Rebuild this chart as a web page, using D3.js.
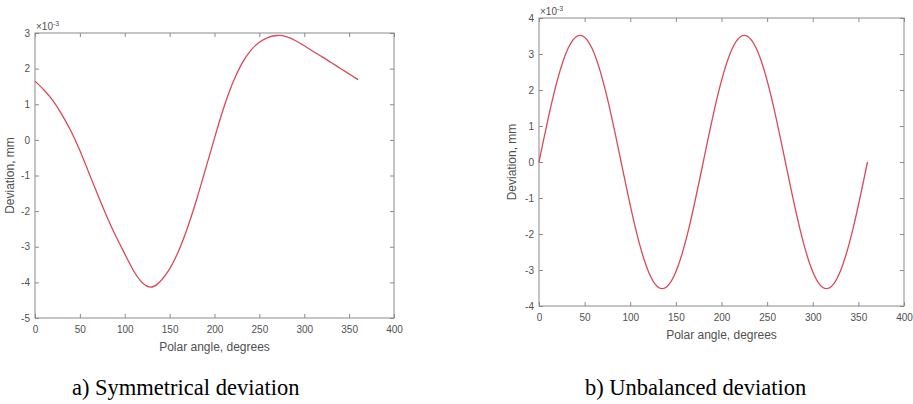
<!DOCTYPE html>
<html>
<head>
<meta charset="utf-8">
<script src="https://cdn.jsdelivr.net/npm/d3@7"></script>
<style>
  body { margin: 0; background: #fff; }
  svg { display: block; }
</style>
</head>
<body>
<svg id="main" width="913" height="404"></svg>
<script>
// Polar angle ticks shared by both panels
const angleTicks = [0, 50, 100, 150, 200, 250, 300, 350, 400];

// a) symmetrical deviation, values in units of 1e-3 mm
const symAngle = [0, 10, 20, 30, 40, 50, 60, 70, 80, 90, 100, 110, 120, 130,
                  140, 150, 160, 170, 180, 190, 200, 210, 220, 230, 240, 250,
                  260, 270, 280, 290, 300, 310, 320, 330, 340, 350, 360];
const symDev = [1.65, 1.40, 1.10, 0.71, 0.25, -0.30, -0.92, -1.55, -2.15, -2.70,
                -3.20, -3.68, -4.02, -4.13, -3.96, -3.62, -3.12, -2.46, -1.68,
                -0.82, 0.05, 0.88, 1.58, 2.12, 2.50, 2.74, 2.88, 2.93, 2.90,
                2.79, 2.64, 2.48, 2.33, 2.17, 2.01, 1.85, 1.69];
const symTicks = [-5, -4, -3, -2, -1, 0, 1, 2, 3];

// b) unbalanced deviation, values in units of 1e-3 mm
const unbAngle = [0, 15, 30, 45, 60, 75, 90, 105, 120, 135, 150, 165, 180,
                  195, 210, 225, 240, 255, 270, 285, 300, 315, 330, 345, 360];
const unbDev = [0, 1.76, 3.05, 3.52, 3.05, 1.76, 0, -1.76, -3.05, -3.52, -3.05,
                -1.76, 0, 1.76, 3.05, 3.52, 3.05, 1.76, 0, -1.76, -3.05, -3.52,
                -3.05, -1.76, 0];
const unbTicks = [-4, -3, -2, -1, 0, 1, 2, 3, 4];

const captions = ["a) Symmetrical deviation", "b) Unbalanced deviation"];

/////////////////////////////////////////////////////////

const svg = d3.select("#main");
const sans = "'Liberation Sans', Arial, sans-serif";
const boxColor = "#8a8a8a";
const labelColor = "#505050";

function drawPanel(p) {
    const g = svg.append("g");
    const x = d3.scaleLinear().domain([0, 400]).range([p.x0, p.x1]);
    const y = d3.scaleLinear().domain(d3.extent(p.yTicks)).range([p.y1, p.y0]);

    const fmt = d => String(d);

    // bottom / left with labels, top / right ticks only (matlab box)
    const axes = [
        [d3.axisBottom(x).tickValues(angleTicks).tickFormat(fmt).tickPadding(8), p.y1, true],
        [d3.axisTop(x).tickValues(angleTicks).tickFormat(""), p.y0, true],
        [d3.axisLeft(y).tickValues(p.yTicks).tickFormat(fmt).tickPadding(5), p.x0, false],
        [d3.axisRight(y).tickValues(p.yTicks).tickFormat(""), p.x1, false],
    ];
    axes.forEach(([ax, pos, horiz]) => {
        const a = g.append("g")
            .attr("transform", horiz ? `translate(0,${pos})` : `translate(${pos},0)`)
            .call(ax.tickSizeInner(-4).tickSizeOuter(0));
        a.select(".domain").remove();
        a.selectAll("line").attr("stroke", boxColor);
        a.selectAll("text")
            .attr("fill", labelColor)
            .style("font-family", sans)
            .style("font-size", "10px");
    });

    g.append("rect")
        .attr("x", p.x0).attr("y", p.y0)
        .attr("width", p.x1 - p.x0).attr("height", p.y1 - p.y0)
        .attr("fill", "none")
        .attr("stroke", boxColor)
        .attr("stroke-width", 1);

    const line = d3.line()
        .x(d => x(d[0]))
        .y(d => y(d[1]))
        .curve(d3.curveNatural);

    g.append("path")
        .datum(d3.zip(p.angle, p.dev))
        .attr("d", line)
        .attr("fill", "none")
        .attr("stroke", "#d84a58")
        .attr("stroke-width", 1.3);

    // exponent marker
    const ex = g.append("text")
        .attr("x", p.x0 + 1)
        .attr("y", p.y0 - 3)
        .attr("fill", labelColor)
        .style("font-family", sans)
        .style("font-size", "10px");
    ex.append("tspan").text("\u00d710");
    ex.append("tspan").attr("dy", -4).style("font-size", "7px").text("-3");

    g.append("text")
        .attr("x", (p.x0 + p.x1) / 2)
        .attr("y", p.xLabelY)
        .attr("text-anchor", "middle")
        .attr("fill", labelColor)
        .style("font-family", sans)
        .style("font-size", "12px")
        .text("Polar angle, degrees");

    g.append("text")
        .attr("transform", `translate(${p.yLabelX},${(p.y0 + p.y1) / 2}) rotate(-90)`)
        .attr("text-anchor", "middle")
        .attr("fill", labelColor)
        .style("font-family", sans)
        .style("font-size", "12px")
        .text("Deviation, mm");

    svg.append("text")
        .attr("x", p.capX)
        .attr("y", 395)
        .attr("fill", "#000")
        .style("font-family", "'Liberation Serif', 'Times New Roman', serif")
        .style("font-size", "22.5px")
        .text(p.caption);
}

drawPanel({
    x0: 35, x1: 394, y0: 33, y1: 318,
    angle: symAngle, dev: symDev, yTicks: symTicks,
    xLabelY: 351, yLabelX: 14, capX: 72, caption: captions[0]
});

drawPanel({
    x0: 539, x1: 904, y0: 18, y1: 306,
    angle: unbAngle, dev: unbDev, yTicks: unbTicks,
    xLabelY: 339, yLabelX: 516, capX: 585, caption: captions[1]
});

console.log("All done");
</script>
</body>
</html>
